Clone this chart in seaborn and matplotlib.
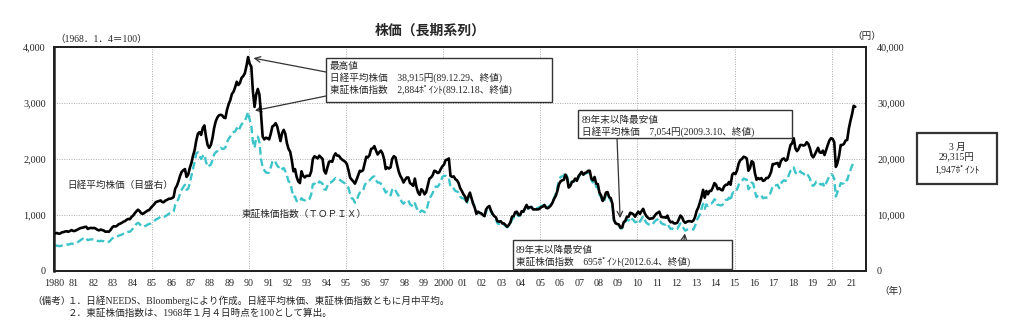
import numpy as np
import pandas as pd
import matplotlib
matplotlib.use("Agg")
import matplotlib.pyplot as plt
import seaborn as sns
from matplotlib.patches import Rectangle

# ---------------- data (monthly averages) ----------------
nikkei_1980s = [
    6700, 6800, 6650, 6700, 6900, 6950, 7050, 7100, 7000, 7150, 7300, 7150,
    7150, 7300, 7450, 7600, 7700, 7750, 7850, 7900, 7500, 7650, 7700, 7650,
    7700, 7550, 7350, 7250, 7400, 7300, 7200, 7000, 7050, 7000, 7300, 7750,
    8000, 7950, 8050, 8350, 8450, 8600, 8800, 8900, 9150, 9300, 9250, 9650,
    9900, 10300, 10650, 10950, 10700, 10300, 10200, 10400, 10600, 10800, 10900, 11300,
    11600, 11900, 12300, 12400, 12500, 12600, 12300, 12300, 12600, 12700, 12900, 12900,
    13000, 13200, 14700, 15200, 16000, 17000, 17700, 18000, 18200, 16800, 17200, 18400,
    19300, 20600, 21600, 23300, 24500, 24800, 24300, 25500, 26000, 24000, 22500, 22000,
    22500, 23700, 25500, 26700, 27400, 27800, 27900, 27800, 27400, 27300, 28800, 29800,
    30500, 31600, 32000, 32800, 33800, 33200, 33600, 34500, 34800, 35300, 36600, 38200,
]
nikkei_1990s = [
    37000, 36500, 32000, 29300, 31500, 32500, 31500, 28000, 24000, 23500, 23800, 23700,
    23500, 24500, 25800, 26000, 26400, 25800, 24500, 23200, 24600, 25200, 24500, 22800,
    21800, 21300, 19800, 17800, 18200, 16800, 16000, 15700, 17800, 17000, 16700, 17000,
    17000, 17000, 17800, 20000, 20500, 20300, 20100, 20600, 20300, 20000, 17900, 17400,
    18500, 19500, 19600, 19500, 20500, 21000, 20600, 20600, 20200, 19900, 19700, 19500,
    19100, 18000, 16700, 16300, 16000, 15600, 16300, 17100, 17900, 17800, 18000, 19200,
    20400, 20300, 20700, 21800, 21900, 22300, 21500, 20800, 21200, 21500, 21000, 20000,
    18200, 18500, 18300, 18500, 20000, 20500, 20300, 19000, 17800, 17000, 16500, 15800,
    16300, 16700, 16700, 15700, 15500, 15200, 16500, 15000, 14000, 13600, 14600, 14300,
    13700, 14100, 15300, 16500, 16700, 17100, 17900, 17800, 17500, 17600, 18200, 18700,
]
nikkei_2000s = [
    19000, 19800, 19900, 20100, 17000, 16800, 16900, 16400, 16200, 15700, 14800, 14300,
    13700, 13300, 12400, 13300, 14000, 13000, 12000, 11300, 10200, 10600, 10400, 10300,
    10000, 9800, 11000, 11400, 11600, 10800, 10200, 9800, 9600, 8900, 8800, 8900,
    8500, 8500, 8200, 7900, 8200, 8700, 9700, 9800, 10500, 10600, 10000, 10000,
    10700, 10600, 11200, 11800, 11200, 11400, 11400, 11000, 11000, 11000, 11000, 11100,
    11400, 11500, 11800, 11300, 11200, 11400, 11700, 12200, 12900, 13400, 14300, 15500,
    16000, 16200, 16300, 17200, 16600, 14900, 15200, 15900, 16000, 16500, 16100, 16900,
    17300, 17700, 17200, 17500, 17600, 17900, 17900, 16500, 16200, 16800, 15600, 15500,
    14000, 13500, 12500, 13000, 14000, 14100, 13200, 13000, 12000, 9100, 8500, 8400,
    8300, 7700, 7800, 8700, 9000, 9700, 9700, 10400, 10300, 10100, 9700, 10200,
]
nikkei_2010s = [
    10600, 10200, 10700, 11100, 10300, 9800, 9500, 9300, 9400, 9400, 9800, 10200,
    10400, 10600, 9700, 9600, 9600, 9500, 9900, 9100, 8700, 8800, 8500, 8500,
    8600, 9200, 9900, 9600, 8900, 8600, 8800, 8900, 8900, 8800, 9000, 9600,
    10700, 11300, 12200, 13200, 14500, 13100, 14300, 13700, 14300, 14300, 14900, 15700,
    15400, 14600, 14800, 14500, 14400, 15100, 15400, 15400, 15900, 15400, 17200, 17500,
    17300, 18000, 19200, 19800, 20000, 20400, 20300, 20100, 17900, 18400, 19600, 19400,
    17500, 16300, 16600, 16400, 16600, 16100, 16200, 16600, 16600, 17000, 17700, 19100,
    19100, 19200, 19300, 18600, 19600, 20000, 20100, 19700, 19900, 21300, 22500, 22800,
    23700, 21900, 21400, 21800, 22500, 22500, 22400, 22500, 23000, 22700, 21900, 20700,
    20300, 20800, 21400, 22000, 21200, 21100, 21500, 20700, 21600, 22500, 23300, 23700,
]
nikkei_2020s = [
    23600, 23000, 18600, 19300, 20600, 22500, 22500, 22700, 23300, 23400, 25400, 26800,
    28000, 29500, 29315,
]

topix_1980s = [
    450, 455, 445, 445, 455, 465, 470, 475, 470, 480, 490, 485,
    490, 500, 520, 540, 560, 580, 595, 590, 550, 560, 565, 565,
    565, 555, 540, 530, 540, 535, 530, 515, 520, 520, 545, 580,
    600, 600, 610, 630, 640, 650, 665, 670, 690, 700, 700, 730,
    760, 800, 840, 860, 840, 800, 790, 800, 810, 830, 840, 850,
    870, 890, 920, 930, 950, 970, 960, 960, 980, 1000, 1020, 1040,
    1040, 1060, 1180, 1230, 1290, 1380, 1450, 1500, 1540, 1450, 1470, 1560,
    1700, 1830, 1950, 2100, 2120, 2050, 2000, 2050, 2080, 1950, 1860, 1880,
    1900, 1980, 2080, 2120, 2140, 2180, 2200, 2180, 2180, 2210, 2300, 2360,
    2400, 2460, 2480, 2490, 2550, 2500, 2560, 2620, 2650, 2680, 2750, 2840,
]
topix_1990s = [
    2700, 2600, 2300, 2200, 2380, 2400, 2300, 2000, 1850, 1800, 1760, 1750,
    1760, 1850, 1950, 1980, 1940, 1880, 1850, 1800, 1820, 1840, 1780, 1700,
    1600, 1580, 1450, 1320, 1330, 1250, 1230, 1240, 1300, 1270, 1260, 1290,
    1280, 1290, 1370, 1550, 1560, 1540, 1540, 1600, 1580, 1560, 1460, 1450,
    1520, 1580, 1580, 1600, 1630, 1660, 1640, 1640, 1620, 1600, 1580, 1560,
    1530, 1480, 1380, 1300, 1280, 1220, 1250, 1340, 1400, 1410, 1430, 1530,
    1580, 1600, 1620, 1650, 1680, 1690, 1620, 1580, 1580, 1560, 1520, 1460,
    1400, 1420, 1380, 1350, 1450, 1480, 1440, 1390, 1340, 1290, 1230, 1200,
    1240, 1260, 1260, 1190, 1170, 1150, 1210, 1130, 1080, 1040, 1080, 1070,
    1050, 1060, 1180, 1290, 1340, 1390, 1480, 1510, 1500, 1540, 1600, 1680,
]
topix_2000s = [
    1700, 1700, 1680, 1660, 1500, 1500, 1470, 1430, 1420, 1400, 1330, 1300,
    1300, 1270, 1200, 1300, 1330, 1280, 1210, 1150, 1040, 1050, 1030, 1020,
    1010, 980, 1060, 1100, 1120, 1060, 1010, 970, 930, 850, 840, 850,
    820, 840, 800, 780, 800, 850, 920, 950, 1010, 1030, 980, 990,
    1050, 1040, 1120, 1180, 1110, 1130, 1150, 1110, 1110, 1120, 1130, 1140,
    1160, 1170, 1190, 1150, 1140, 1160, 1190, 1240, 1300, 1380, 1490, 1620,
    1680, 1690, 1700, 1760, 1690, 1550, 1560, 1600, 1590, 1630, 1610, 1660,
    1720, 1760, 1720, 1730, 1750, 1760, 1740, 1620, 1580, 1620, 1500, 1490,
    1360, 1320, 1230, 1250, 1370, 1400, 1310, 1250, 1170, 900, 860, 850,
    820, 760, 760, 820, 880, 920, 900, 960, 930, 910, 870, 880,
]
topix_2010s = [
    920, 880, 930, 980, 910, 860, 840, 820, 840, 840, 880, 910,
    920, 940, 860, 840, 830, 830, 850, 790, 750, 760, 740, 740,
    750, 800, 850, 820, 760, 720, 740, 740, 740, 740, 740, 800,
    900, 950, 1010, 1110, 1200, 1110, 1190, 1160, 1190, 1200, 1230, 1280,
    1260, 1180, 1180, 1170, 1180, 1240, 1270, 1270, 1310, 1250, 1380, 1410,
    1400, 1460, 1540, 1580, 1610, 1650, 1640, 1630, 1460, 1500, 1580, 1560,
    1420, 1320, 1350, 1340, 1350, 1300, 1310, 1310, 1320, 1350, 1420, 1520,
    1530, 1530, 1540, 1480, 1560, 1600, 1620, 1610, 1620, 1720, 1790, 1800,
    1850, 1760, 1730, 1730, 1780, 1750, 1740, 1710, 1740, 1700, 1650, 1540,
    1520, 1550, 1600, 1600, 1560, 1540, 1560, 1500, 1570, 1630, 1700, 1730,
]
topix_2020s = [
    1710, 1650, 1330, 1410, 1480, 1570, 1560, 1570, 1630, 1620, 1720, 1800,
    1880, 1940, 1947,
]

start_year = 1980
year_ticks = list(range(1980, 2022))
year_labels = [str(y) if y in (1980, 2000) else f"{y % 100:02d}" for y in year_ticks]

nikkei = nikkei_1980s + nikkei_1990s + nikkei_2000s + nikkei_2010s + nikkei_2020s
topix = topix_1980s + topix_1990s + topix_2000s + topix_2010s + topix_2020s
months = np.arange(len(nikkei))
df = pd.DataFrame({
    "t": start_year + (months + 0.5) / 12.0,
    "nikkei": nikkei,
    "topix": topix,
})

# ---------------- figure ----------------
sns.set_style("white")
plt.rcParams["font.family"] = ["Liberation Serif", "Noto Sans CJK JP", "DejaVu Sans"]

W, H = 1024, 322
fig = plt.figure(figsize=(W / 100, H / 100), dpi=100)


def fx(px):
    return px / W


def fy(py):
    return 1 - py / H


ax = fig.add_axes([fx(54), fy(271), fx(866 - 54), (271 - 47) / H])
ax2 = ax.twinx()

sns.lineplot(data=df, x="t", y="topix", ax=ax, color="#3cc4c8", lw=1.7,
             linestyle=(0, (3.2, 1.6)))
sns.lineplot(data=df, x="t", y="nikkei", ax=ax2, color="black", lw=1.9)

ax.set_xlim(1979.97, 2021.76)
ax.set_ylim(0, 4000)
ax2.set_ylim(0, 40000)

for yr in range(1985, 2021, 5):
    ax.axvline(yr, color="#aaaaaa", lw=0.7, ls=(0, (1, 1.5)), zorder=0)
for v in (1000, 2000, 3000):
    ax.axhline(v, color="#aaaaaa", lw=0.7, ls=(0, (1, 1.5)), zorder=0)

ax.set_xticks(year_ticks)
ax.set_xticklabels(year_labels, fontsize=7.3)
ax.set_yticks([0, 1000, 2000, 3000, 4000])
ax.set_yticklabels(["0", "1,000", "2,000", "3,000", "4,000"], fontsize=7.3)
ax2.set_yticks([0, 10000, 20000, 30000, 40000])
ax2.set_yticklabels(["0", "10,000", "20,000", "30,000", "40,000"], fontsize=7.3)
ax.tick_params(axis="x", length=0, pad=6)
ax.tick_params(axis="y", length=0, pad=6)
ax2.tick_params(axis="y", length=0, pad=8)
ax.set_xlabel("")
ax.set_ylabel("")
ax2.set_ylabel("")
for a in (ax, ax2):
    for s in a.spines.values():
        s.set_color("#222222")
        s.set_linewidth(1.4)
ax.spines["left"].set_linewidth(1.8)

# ---------------- texts ----------------
fs = 6.9
fig.text(fx(430), fy(31), "株価（長期系列）", ha="center", va="center",
         fontsize=10, fontweight="bold")
fig.text(fx(55), fy(40), "（1968．1．4＝100）", ha="left", va="center", fontsize=fs)
fig.text(fx(852), fy(36), "（円）", ha="left", va="center", fontsize=fs)
fig.text(fx(879), fy(291), "（年）", ha="left", va="center", fontsize=fs)
fig.text(fx(67), fy(185), "日経平均株価（目盛右）", ha="left", va="center", fontsize=fs)
fig.text(fx(242), fy(214), "東証株価指数（ＴＯＰＩＸ）", ha="left", va="center", fontsize=fs)
fig.text(fx(32), fy(301), "（備考）", ha="left", va="center", fontsize=fs)
fig.text(fx(68), fy(301), "１．日経NEEDS、Bloombergにより作成。日経平均株価、東証株価指数ともに月中平均。",
         ha="left", va="center", fontsize=fs)
fig.text(fx(68), fy(313), "２．東証株価指数は、1968年１月４日時点を100として算出。",
         ha="left", va="center", fontsize=fs)


def box(x0, y0, x1, y1, lines, ys, tx, ha="left", lw=1.0):
    r = Rectangle((fx(x0), fy(y1)), fx(x1 - x0), (y1 - y0) / H,
                  transform=fig.transFigure, facecolor="white",
                  edgecolor="#333333", lw=lw, zorder=5)
    fig.add_artist(r)
    for line, yy in zip(lines, ys):
        fig.text(fx(tx), fy(yy), line, ha=ha, va="center", fontsize=fs, zorder=6)


box(326, 58, 552, 102,
    ["最高値",
     "日経平均株価　38,915円(89.12.29、終値)",
     "東証株価指数　2,884ﾎﾟｲﾝﾄ(89.12.18、終値)"],
    [66, 78, 90], 330)
box(578, 110, 792, 138,
    ["89年末以降最安値",
     "日経平均株価　7,054円(2009.3.10、終値)"],
    [120, 132], 582)
box(513, 240, 732, 269,
    ["89年末以降最安値",
     "東証株価指数　695ﾎﾟｲﾝﾄ(2012.6.4、終値)"],
    [250, 262], 516)
box(917, 133, 997, 184,
    ["3 月", "29,315円", "1,947ﾎﾟｲﾝﾄ"],
    [147, 158, 169], 957, ha="center", lw=1.6)

# ---------------- arrows to extreme values ----------------
arrow = dict(arrowstyle="->", color="#333333", lw=0.9, shrinkA=0, mutation_scale=10)
ipk = int(np.argmax(df["nikkei"]))
after = df[df["t"] > 1990]
i_nlow = int(after["nikkei"].idxmin())
i_tlow = int(after["topix"].idxmin())


def fpix(px, py):
    return (px, H - py)


ax2.annotate("", xy=(df["t"][ipk], df["nikkei"][ipk]), xycoords="data",
             xytext=fpix(326, 72), textcoords="figure pixels",
             arrowprops=dict(arrow, shrinkB=4))
ax.annotate("", xy=(df["t"][ipk], df["topix"][ipk]), xycoords="data",
            xytext=fpix(326, 96), textcoords="figure pixels",
            arrowprops=dict(arrow, shrinkB=5))
ax2.annotate("", xy=(df["t"][i_nlow], df["nikkei"][i_nlow]), xycoords="data",
             xytext=fpix(617, 138), textcoords="figure pixels",
             arrowprops=dict(arrow, shrinkB=7))
ax.annotate("", xy=(df["t"][i_tlow], df["topix"][i_tlow]), xycoords="data",
            xytext=fpix(684, 240), textcoords="figure pixels",
            arrowprops=dict(arrow, shrinkB=2))

fig.savefig("out.png", dpi=100)
